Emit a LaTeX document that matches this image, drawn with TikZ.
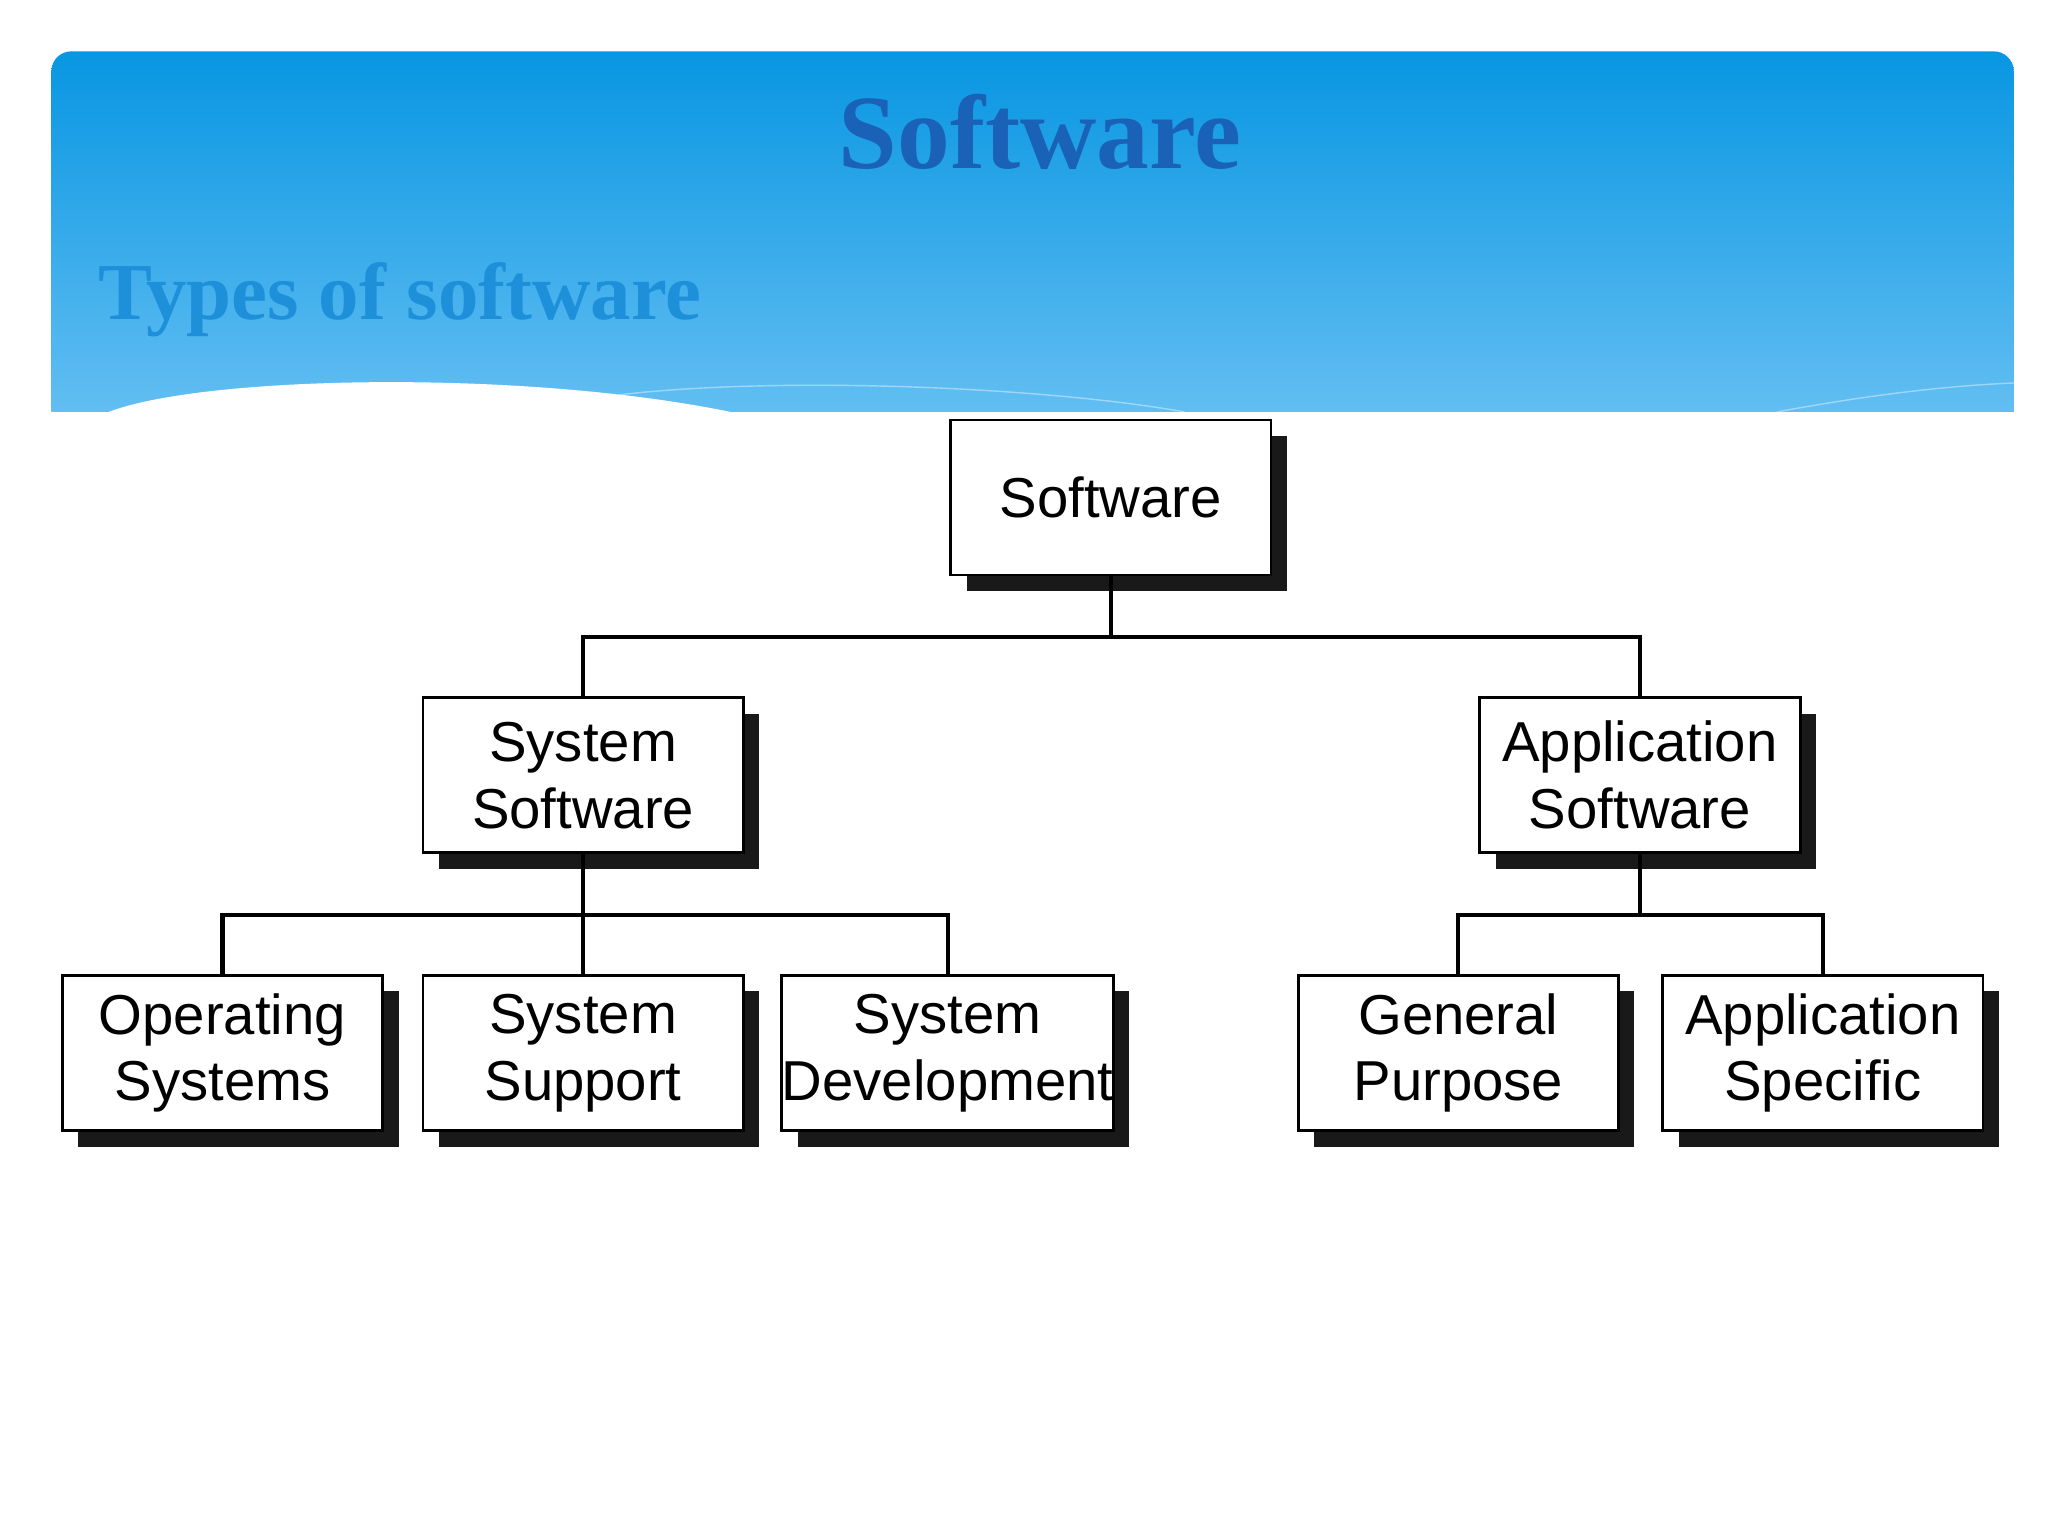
\documentclass[tikz,border=0pt]{standalone}
\usepackage{fontspec}
\setmainfont{Liberation Serif}
\newfontfamily\boxfont{Liberation Sans}
\usetikzlibrary{shadows}
\definecolor{hdtop}{HTML}{0896E2}
\definecolor{hdbot}{HTML}{62BEF2}
\definecolor{titleblue}{HTML}{1A62B8}
\definecolor{subblue}{HTML}{1E90DA}

\begin{document}
\begin{tikzpicture}[
        x = 0.01316cm, y = -0.01316cm, % pixel grid
        line width = 1.2pt
    ]

    \tikzset{
        sbox/.style = {
            draw = black,
            fill = white,
            thick,
            minimum width = 3.2cm,
            minimum height = 1.55cm,
            align = center,
            inner sep = 0pt,
            font = \boxfont\fontsize{16}{19}\selectfont,
            drop shadow = {shadow xshift = 0.16cm, shadow yshift = -0.16cm,
                           fill = black!90, opacity = 1}
        }
    }

    \useasboundingbox (0,0) rectangle (1556,1167);

    % header band
    \begin{scope}
        \clip (39,313) [rounded corners=0.2cm] -- (39,39) -- (1530,39) [sharp corners] -- (1530,313) -- cycle;
        \shade[top color = hdtop, bottom color = hdbot] (39,39) rectangle (1530,313);
        \fill[white] (80,314) .. controls (150,285) and (400,280) .. (560,314) -- cycle;
        \draw[white, opacity = 0.4, thin] (470,300) .. controls (600,285) and (800,295) .. (900,313);
        \draw[white, opacity = 0.4, thin] (1350,313) .. controls (1420,300) and (1480,293) .. (1530,291);
    \end{scope}
    \node[text = titleblue, font = \bfseries\fontsize{30}{34}\selectfont] (title) at (790,100) {Software};
    \node[text = subblue, font = \bfseries\fontsize{23}{26}\selectfont, anchor = west] (sub) at (64,228) {Types of software};

    % boxes
    \node[sbox] (sw) at (844,378) {Software};
    \node[sbox] (sys) at (443,589) {System\\Software};
    \node[sbox] (app) at (1246,589) {Application\\Software};
    \node[sbox] (os) at (169,800) {Operating\\Systems};
    \node[sbox] (sup) at (443,800) {System\\Support};
    \node[sbox] (dev) at (720,800) {System\\Development};
    \node[sbox] (gen) at (1108,800) {General\\Purpose};
    \node[sbox] (spec) at (1385,800) {Application\\Specific};

    % connectors
    \draw (sw.south) -- ++(0,46) -| (sys.north);
    \draw (sw.south) ++(0,46) -| (app.north);
    \draw (sys.south) -- ++(0,46) -| (os.north);
    \draw (sys.south) ++(0,46) -| (dev.north);
    \draw (sys.south) -- (sup.north);
    \draw (app.south) -- ++(0,46) -| (gen.north);
    \draw (app.south) ++(0,46) -| (spec.north);

\end{tikzpicture}
\end{document}
